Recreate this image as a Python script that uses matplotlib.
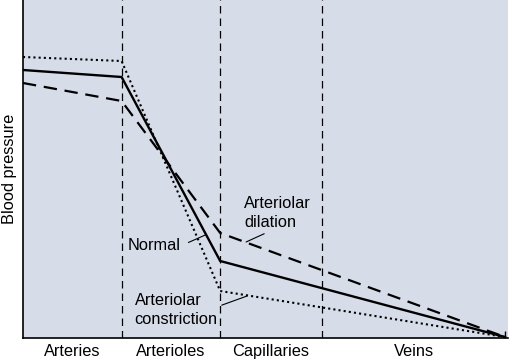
import numpy as np
import matplotlib.pyplot as plt

plt.rcParams['font.family'] = ['Liberation Sans', 'DejaVu Sans']

# section boundaries along the vessel path (arteries | arterioles | capillaries | veins)
bounds = [23, 122, 221, 323, 508]
sections = ['Arteries', 'Arterioles', 'Capillaries', 'Veins']

# pressure read at the start of arteries, end of arteries, end of arterioles, end of veins
x_pts = [23, 122, 221, 507]
normal = [268, 261, 77, 1]
dilation = [255, 237, 105, 1]
constriction = [281, 277, 47, 1]

fs = 11.8

fig = plt.figure(figsize=(5.1, 3.61), dpi=100)
ax = fig.add_axes([23/510, 23/361, 485/510, 338/361])
ax.set_facecolor('#d6dce8')

ax.plot(x_pts, normal, color='black', lw=1.7, solid_joinstyle='miter')
ax.plot(x_pts, dilation, color='black', lw=1.6, dashes=(6, 3.5))
ax.plot(x_pts, constriction, color='black', lw=1.5, dashes=(1, 1.5))

for b in bounds[1:4]:
    ax.axvline(b, color='black', lw=0.9, dashes=(6, 4))

ax.set_xlim(bounds[0], 510)
ax.set_ylim(0, 338)
for s in ['top', 'right']:
    ax.spines[s].set_visible(False)
ax.spines['left'].set_linewidth(1.2)
ax.spines['bottom'].set_linewidth(1.2)

centers = [(bounds[i] + bounds[i+1]) / 2 for i in range(4)]
ax.set_xticks(centers)
ax.set_xticklabels(sections, fontsize=fs)
ax.tick_params(axis='x', length=0, pad=4)
ax.set_xticks([bounds[-1] - 1], minor=True)
ax.tick_params(axis='x', which='minor', direction='in', length=5, width=1)
ax.set_yticks([])
ax.set_ylabel('Blood pressure', fontsize=fs, labelpad=4)

ax.annotate('Arteriolar\ndilation', xy=(247, 96), xytext=(245, 125),
            ha='left', va='center', fontsize=fs, linespacing=1.3,
            arrowprops=dict(arrowstyle='-', lw=0.8, shrinkA=2, shrinkB=0,
                            relpos=(0.43, 0)))
ax.annotate('Normal', xy=(206, 103), xytext=(128, 92),
            ha='left', va='center', fontsize=fs,
            arrowprops=dict(arrowstyle='-', lw=0.8, shrinkA=4, shrinkB=0,
                            relpos=(1.0, 0.5)))
ax.annotate('Arteriolar\nconstriction', xy=(248, 42), xytext=(135, 28),
            ha='left', va='center', fontsize=fs, linespacing=1.3,
            arrowprops=dict(arrowstyle='-', lw=0.8, shrinkA=1, shrinkB=0,
                            relpos=(1.0, 0.6)))

fig.savefig('out.png', dpi=100)
